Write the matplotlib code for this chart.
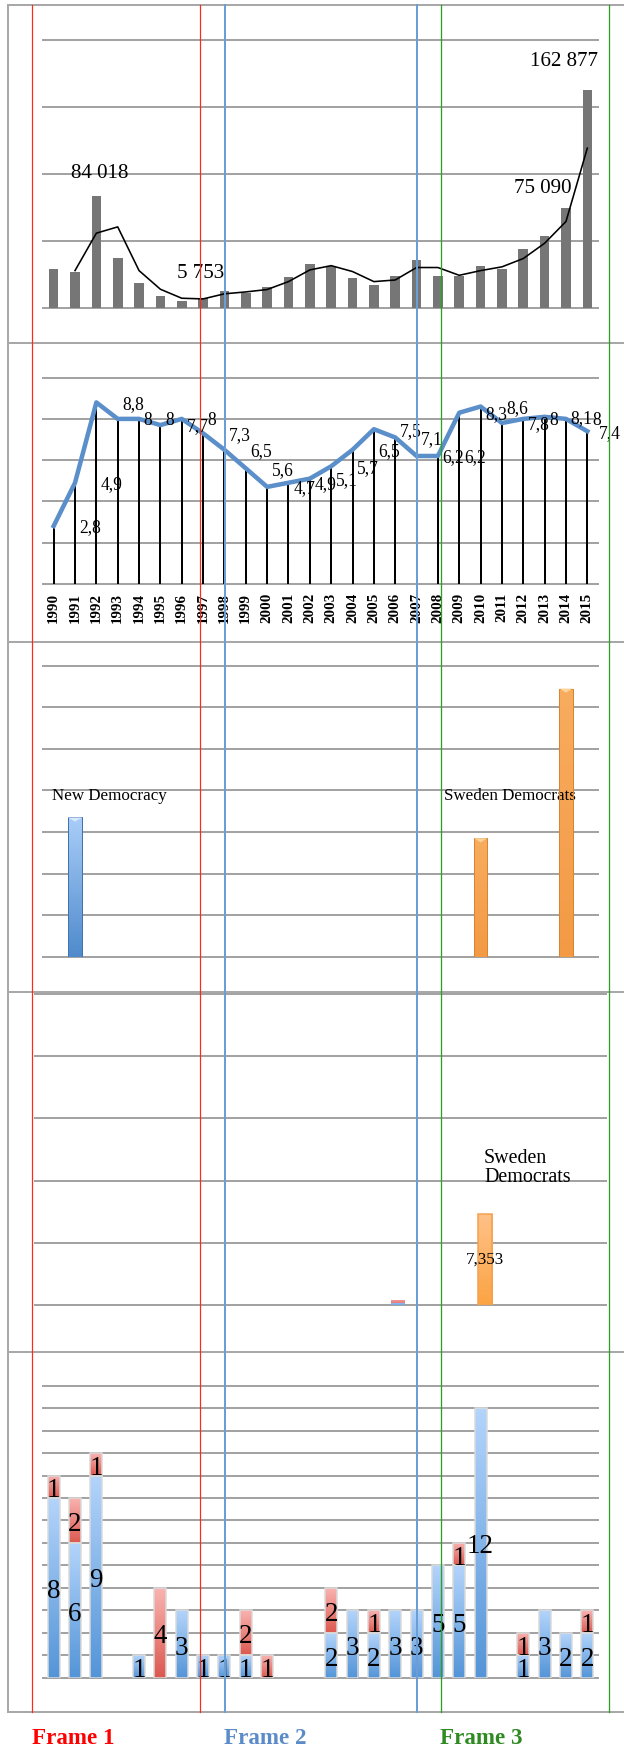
import numpy as np
import matplotlib.pyplot as plt
from matplotlib.lines import Line2D
from matplotlib.patches import Rectangle, Polygon
from matplotlib.colors import LinearSegmentedColormap

W, H = 624, 1748
DPI = 72  # 1 pt == 1 px

years = list(range(1990, 2016))

# asylum seekers per year, with the two-year moving average line
asylum = [29100, 27100, 84018, 37300, 18700, 9200, 5753, 8000, 12700, 11200,
          16200, 23400, 32800, 31600, 22900, 17200, 24100, 36100, 24100, 24100,
          31300, 29600, 44000, 53700, 75090, 162877]
asylum_avg = [None, 28100, 56000, 60700, 28100, 14200, 7500, 7000, 10800, 12200,
              14000, 19900, 28600, 31800, 27400, 19900, 21100, 30400, 30400, 24600,
              28100, 30900, 37100, 48500, 64700, 119400]
asylum_labels = {2: "84 018", 6: "5 753", 24: "75 090", 25: "162 877"}
asylum_label_offsets = {2: (3, 22), 6: (19, 27), 24: (-23, 19), 25: (-23, 28)}

# unemployment rate, %
unemployment = [2.8, 4.9, 8.8, 8, 8, 7.7, 8, 7.3, 6.5, 5.6, 4.7, 4.9, 5.1, 5.7,
                6.5, 7.5, 7.1, 6.2, 6.2, 8.3, 8.6, 7.8, 8, 8.1, 8, 7.4]

# election results, %
party_idx = [1, 20, 24]
party_vals = [6.7, 5.7, 12.9]
party_cols = ["blue", "orange", "orange"]

# second election series
sd_idx = 20
sd_val = 7.353
small_idx = 16
small_blue = 0.2
small_red = 0.25

# stacked counts per year
count_blue = [8, 6, 9, 0, 1, 0, 3, 1, 1, 1, 0, 0, 0, 2, 3, 2, 3, 3, 5, 5, 12, 0, 1, 3, 2, 2]
count_red = [1, 2, 1, 0, 0, 4, 0, 0, 0, 2, 1, 0, 0, 2, 0, 1, 0, 0, 0, 1, 0, 0, 1, 0, 0, 1]

serif = "Liberation Serif"
GRID = "#a3a3a3"
BORDER = "#a8a8a8"

fig = plt.figure(figsize=(W / DPI, H / DPI), dpi=DPI)
fig.patch.set_facecolor("white")


def panel(x0, x1, ytop, ybot, ymax, n=26):
    ax = fig.add_axes([x0 / W, 1 - ybot / H, (x1 - x0) / W, (ybot - ytop) / H])
    ax.set_xlim(-0.5, n - 0.5)
    ax.set_ylim(0, ymax)
    ax.set_frame_on(False)
    ax.set_xticks([])
    ax.set_yticks([])
    return ax


def gridlines(ax, ticks):
    for t in ticks:
        ax.axhline(t, color=GRID, lw=2, zorder=1, clip_on=False)


def grad_bar(ax, x, y0, h, w, top, bot, edge="none", lw=1.2, cap=None):
    if h <= 0:
        return
    cmap = LinearSegmentedColormap.from_list("g", [bot, top])
    grad = np.linspace(0, 1, 64).reshape(-1, 1)
    im = ax.imshow(grad, cmap=cmap, extent=(x - w / 2, x + w / 2, y0, y0 + h),
                   origin="lower", aspect="auto", zorder=3, interpolation="bilinear")
    r = Rectangle((x - w / 2, y0), w, h, fc="none", ec=edge, lw=lw, zorder=4)
    ax.add_patch(r)
    im.set_clip_path(r)
    if cap is not None:
        col, ch = cap
        ax.add_patch(Polygon([(x - w / 2, y0 + h), (x + w / 2, y0 + h), (x, y0 + h - ch)],
                             closed=True, fc=col, ec="none", zorder=5))


# --- panel 1: asylum seekers ---
ax1 = panel(43, 598, 40, 308.3, 200000)
gridlines(ax1, [0, 50000, 100000, 150000, 200000])
x = np.arange(len(years))
ax1.bar(x, asylum, width=0.45, color="#767676", zorder=3)
xs = [i for i, v in enumerate(asylum_avg) if v is not None]
ax1.plot(xs, [asylum_avg[i] for i in xs], color="black", lw=1.6, zorder=4)
for i, txt in asylum_labels.items():
    ax1.annotate(txt, xy=(i, asylum[i]), xytext=asylum_label_offsets[i],
                 textcoords="offset points", ha="center", va="center",
                 fontsize=21, family=serif, zorder=6, annotation_clip=False)

# --- panel 2: unemployment ---
ax2 = panel(43, 598, 377.7, 583.7, 10)
gridlines(ax2, [0, 2, 4, 6, 8, 10])
ax2.vlines(x, 0, unemployment, color="black", lw=2, zorder=3)
ax2.plot(x, unemployment, color="#5b8fca", lw=4.5, zorder=4, solid_joinstyle="round",
         clip_on=False)
for i, v in enumerate(unemployment):
    dx = 12 if i == len(unemployment) - 1 else 26
    ax2.annotate(f"{v:g}".replace(".", ","), xy=(i, v), xytext=(dx, -2),
                 textcoords="offset points", ha="left", va="center",
                 fontsize=17.5, family=serif, zorder=6, annotation_clip=False)
ax2.set_xticks(x)
ax2.set_xticklabels([str(y) for y in years], rotation=90, fontsize=15,
                    family=serif, fontweight="bold")
ax2.tick_params(axis="x", length=0, pad=9)

# --- panel 3: election results ---
ax3 = panel(43, 598, 665.7, 956.7, 14)
gridlines(ax3, range(0, 15, 2))
bar_cols = {"blue": ("#a9cdf8", "#4f8bcc", "#3f74b0", "#d8e8fb"),
            "orange": ("#f8ac5e", "#f39a45", "#d98530", "#fcd39a")}
for i, v, c in zip(party_idx, party_vals, party_cols):
    top, bot, edge, capc = bar_cols[c]
    grad_bar(ax3, i, 0, v, 0.68 if c == "blue" else 0.62, top, bot, edge=edge, lw=1.0,
             cap=(capc, 0.2))
ax3.text(-0.08, 7.75, "New Democracy", fontsize=17, family=serif, ha="left", va="center")
ax3.text(18.3, 7.75, "Sweden Democrats", fontsize=17, family=serif, ha="left", va="center")

# --- panel 4 ---
ax4 = panel(35, 606, 993.8, 1305.3, 25)
gridlines(ax4, range(0, 26, 5))
grad_bar(ax4, sd_idx, 0, sd_val, 0.64, "#ffc188", "#fba443", edge="#f5a04c", lw=1.5)
grad_bar(ax4, small_idx, 0, small_blue, 0.6, "#9cc6f5", "#6fa6e6")
grad_bar(ax4, small_idx, small_blue, small_red, 0.6, "#f4a0a0", "#e77c7c")
ax4.text(sd_idx, sd_val / 2, f"{sd_val:.3f}".replace(".", ","), fontsize=17, family=serif,
         ha="center", va="center", zorder=6)
ax4.text(19.95, 11, "Sweden\nDemocrats", fontsize=20, family=serif, ha="left",
         va="center", linespacing=1.0)

# --- panel 5: stacked counts ---
ax5 = panel(43, 598, 1385.7, 1677.7, 13)
gridlines(ax5, range(0, 14))


def seg_label(ax, xi, yc, n):
    ax.annotate(str(n), xy=(xi, yc), xytext=(0, -4), textcoords="offset points",
                fontsize=27, family=serif, ha="center", va="center", zorder=6,
                annotation_clip=False)


for i, (b, r) in enumerate(zip(count_blue, count_red)):
    grad_bar(ax5, i, 0, b, 0.56, "#b3d4fb", "#5495d8", edge="#dadada", lw=1.5)
    grad_bar(ax5, i, b, r, 0.56, "#f9b3b0", "#dc5950", edge="#dadada", lw=1.5)
    if b:
        seg_label(ax5, i, b / 2, b)
    if r:
        seg_label(ax5, i, b + r / 2, r)

# outer frame and panel separators
for y in [5, 343, 642, 992, 1351.7, 1711.7]:
    fig.add_artist(Line2D([8.4 / W, 1], [1 - y / H] * 2, color=BORDER, lw=2))
fig.add_artist(Line2D([8.4 / W] * 2, [1 - 5 / H, 1 - 1711.7 / H], color=BORDER, lw=2))

# frame period markers
frames = [(32, 200, "#ff2a10", 1.2, "Frame 1", "#ff0000"),
          (224.5, 417, "#6c9ed6", 2.0, "Frame 2", "#5b8bc8"),
          (440.5, 608.5, "#2aa02a", 1.3, "Frame 3", "#2f8a22")]
for xa, xb, lc, lw, label, tc in frames:
    for xv in (xa, xb):
        fig.add_artist(Line2D([xv / W] * 2, [1 - 5 / H, 1 - 1711.7 / H], color=lc, lw=lw,
                              zorder=10))
    fig.text(xa / W, 1 - 1738 / H, label, color=tc, fontsize=23, family=serif,
             fontweight="bold", ha="left", va="center")

fig.savefig("out.png", dpi=DPI)
